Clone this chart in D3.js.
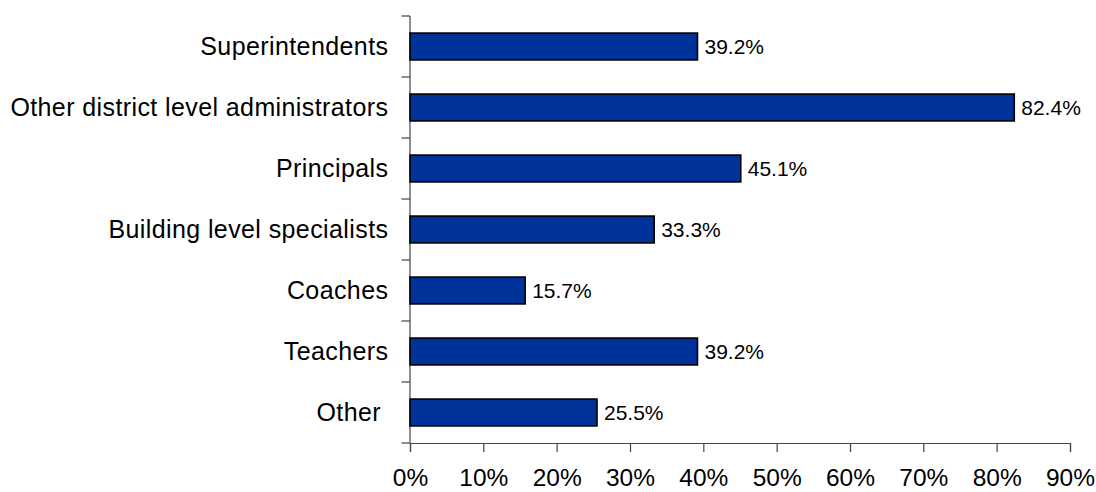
<!DOCTYPE html>
<html>
<head>
<meta charset="utf-8">
<script src="https://cdn.jsdelivr.net/npm/d3@7"></script>
<style>
  html, body { margin: 0; padding: 0; background: #fff; }
  svg { display: block; font-family: Arial, "Liberation Sans", sans-serif; }
</style>
</head>
<body>
<svg id="chart" width="1096" height="492"></svg>
<script>
// Respondent groups, top to bottom
const categories = [
  "Superintendents",
  "Other district level administrators",
  "Principals",
  "Building level specialists",
  "Coaches",
  "Teachers",
  "Other "
];
// Share of respondents (%)
const values = [39.2, 82.4, 45.1, 33.3, 15.7, 39.2, 25.5];
// Horizontal axis ticks (%)
const xTicks = [0, 10, 20, 30, 40, 50, 60, 70, 80, 90];

const svg = d3.select("#chart");
const plotLeft = 410, plotRight = 1070, plotTop = 16, plotBottom = 443;

const x = d3.scaleLinear().domain([0, 90]).range([plotLeft, plotRight]);
const y = d3.scaleBand().domain(categories).range([plotTop, plotBottom]).padding(0);
const step = y.step();
const barH = step * 0.44;
const axisColor = "#444";

// Category axis: line plus boundary ticks between slots
svg.append("line")
  .attr("x1", plotLeft).attr("x2", plotLeft)
  .attr("y1", plotTop).attr("y2", plotBottom)
  .attr("stroke", axisColor).attr("stroke-width", 1.2);
const bounds = categories.map(c => y(c)).concat([plotBottom]);
svg.selectAll(".ytick").data(bounds).enter().append("line")
  .attr("x1", plotLeft - 8.5).attr("x2", plotLeft)
  .attr("y1", d => d).attr("y2", d => d)
  .attr("stroke", axisColor).attr("stroke-width", 1.2);

// Value axis
const xAxis = d3.axisBottom(x)
  .tickValues(xTicks)
  .tickFormat(d => d + "%")
  .tickSize(9)
  .tickPadding(17);
const gx = svg.append("g").attr("transform", `translate(0,${plotBottom})`).call(xAxis);
gx.select(".domain").attr("stroke", axisColor).attr("stroke-width", 1.2);
gx.selectAll(".tick line").attr("stroke", axisColor).attr("stroke-width", 1.2);
gx.selectAll(".tick text")
  .attr("font-size", 24.5)
  .attr("font-family", "Arial, 'Liberation Sans', sans-serif")
  .attr("fill", "#000");

// Category labels
svg.selectAll(".cat").data(categories).enter().append("text")
  .attr("x", 388.4)
  .attr("y", d => y(d) + step / 2)
  .attr("dy", "0.33em")
  .attr("text-anchor", "end")
  .attr("font-size", 25)
  .attr("letter-spacing", 0.4)
  .style("white-space", "pre")
  .attr("fill", "#000")
  .text(d => d);

// Bars
svg.selectAll(".bar").data(values).enter().append("rect")
  .attr("x", x(0))
  .attr("y", (d, i) => y(categories[i]) + (step - barH) / 2)
  .attr("width", d => x(d) - x(0))
  .attr("height", barH)
  .attr("fill", "#003399")
  .attr("stroke", "#000")
  .attr("stroke-width", 1.6);

// Value labels
svg.selectAll(".val").data(values).enter().append("text")
  .attr("x", d => x(d) + 7)
  .attr("y", (d, i) => y(categories[i]) + step / 2)
  .attr("dy", "0.35em")
  .attr("font-size", 21)
  .attr("fill", "#000")
  .text(d => d.toFixed(1) + "%");
</script>
</body>
</html>
